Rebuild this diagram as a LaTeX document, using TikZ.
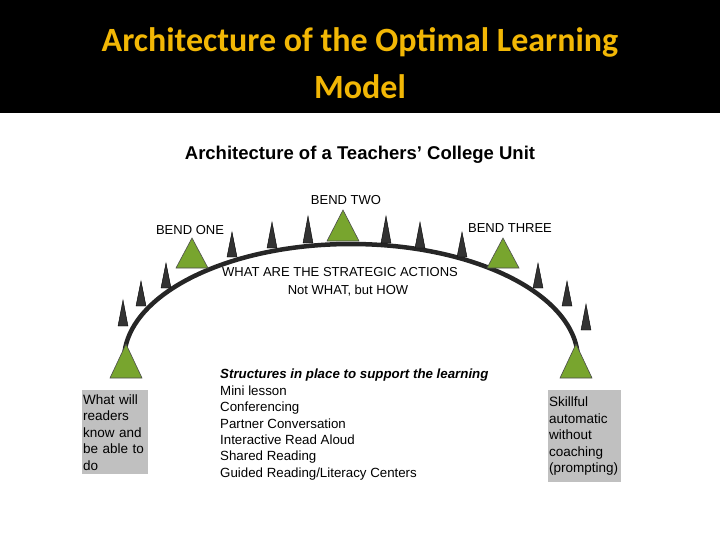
\documentclass[tikz,border=0pt]{standalone}
\usepackage{fontspec}
\setmainfont{Liberation Sans}
\newfontfamily\titlefont{Carlito}
\definecolor{gold}{HTML}{F2B705}
\definecolor{leaf}{HTML}{78A52E}
\definecolor{boxgray}{HTML}{C0C0C0}
\begin{document}
\begin{tikzpicture}[x=1pt,y=-1pt,
  lbl/.style={font=\fontsize{13}{15}\selectfont,inner sep=0pt},
  gbox/.style={fill=boxgray,align=left,anchor=north west,inner sep=1pt,font=\fontsize{13.5}{16.5}\selectfont}]
\useasboundingbox (0,0) rectangle (720,540);
\fill[black] (0,0) rectangle (720,113);
\node[text=gold,font=\titlefont\bfseries\fontsize{34}{47}\selectfont,align=center] (title) at (360,63) {Architecture of the Optimal Learning\\Model};
\node[font=\bfseries\fontsize{18.5}{20}\selectfont] (sub) at (360,155) {Architecture of a Teachers’ College Unit};
% arc
\draw[line width=4.5pt,black!85] (124,360) arc[start angle=180,end angle=360,x radius=227,y radius=116];
% dark triangles
\foreach \x/\t/\b in {123/300/326,141/281/306,166/263/288,232/232/257,272/222/248,308/216/243,386/216/243,420/222/248,462/232/257,538/263/288,567/281/306,586/304/330}
  \filldraw[fill=black!80,draw=black] (\x,\t) -- (\x+5,\b) -- (\x-5,\b) -- cycle;
% green triangles
\foreach \x/\t/\b in {126/344/378,192/238/268,343/210/241,503/238/268,576/344/378}
  \filldraw[fill=leaf,draw=black!70,line width=0.6pt] (\x,\t) -- (\x+16,\b) -- (\x-16,\b) -- cycle;
\node[lbl] (b1) at (190,230) {BEND ONE};
\node[lbl] (b2) at (346,200) {BEND TWO};
\node[lbl] (b3) at (510,228) {BEND THREE};
\node[lbl] (w1) at (340,272) {WHAT ARE THE STRATEGIC ACTIONS};
\node[lbl] (w2) at (348,291) {Not WHAT, but HOW};
\node[anchor=north west,align=left,inner sep=0pt,font=\fontsize{13.3}{16.4}\selectfont] (st) at (220,369) {\textbf{\itshape Structures in place to support the learning}\\Mini lesson\\Conferencing\\Partner Conversation\\Interactive Read Aloud\\Shared Reading\\Guided Reading/Literacy Centers};
\node[gbox,minimum width=66pt,minimum height=84pt,text width=64pt] (lb) at (82,390) {What will\\readers\\know and\\be able to\\do};
\node[gbox,minimum width=73pt,minimum height=92pt,text width=71pt] (rb) at (548,390) {Skillful\\automatic\\without\\coaching\\(prompting)};
\end{tikzpicture}
\end{document}
